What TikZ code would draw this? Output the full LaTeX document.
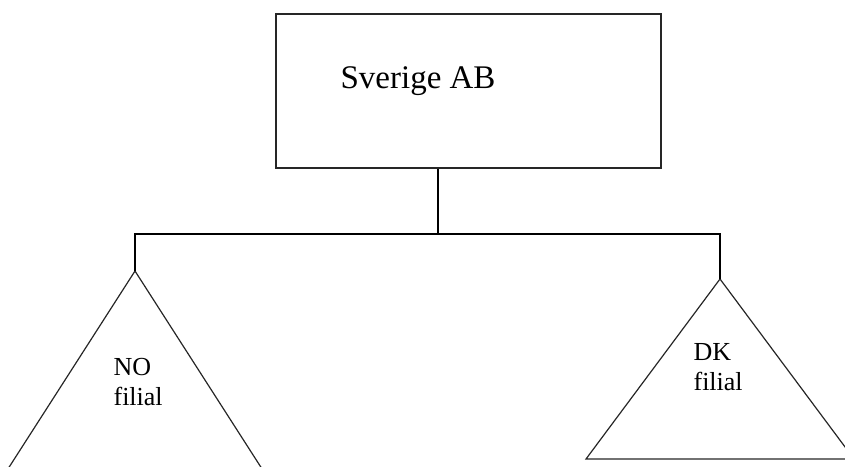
\documentclass[tikz,border=0pt]{standalone}
\usepackage{fontspec}
\setmainfont{Liberation Serif}
\begin{document}
\begin{tikzpicture}[x=1pt,y=-1pt, line join=miter, line width=1.2pt]
            \def\W{845} \def\H{466} % bildens mått
            \tikzset{ruta/.style={draw=black!85, minimum width=385pt, minimum height=154pt, inner sep=0pt},
                     namn/.style={font=\fontsize{26}{30}\selectfont, align=left, inner sep=0pt, anchor=base west}}
            \useasboundingbox (0,0) rectangle (\W,\H);
            % moderbolaget
            \node[ruta] (sverige) at (468.5,91) {};
            \node[anchor=base west, inner sep=0pt, font=\fontsize{33}{36}\selectfont] (sverigetext) at (340,88) {Sverige AB};
            % filialerna
            \coordinate (notop) at (135,271);
            \coordinate (dktop) at (720,279);
            \coordinate (split) at (438,234);
            \begin{scope}
                \clip (0,0) rectangle (\W,\H);
                \draw[black!85] (notop) -- ++(-138,215) -- ++(276,0) -- cycle;
                \draw[black!85] (dktop) -- ++(-134,180) -- ++(268,0) -- cycle;
            \end{scope}
            \node[namn] (notext) at (113,405) {NO\\filial};
            \node[namn] (dktext) at (693,390) {DK\\filial};
            % organisationslinjer
            \draw (split) -- (split |- sverige.south);
            \draw (notop) |- (split) -| (dktop);
        \end{tikzpicture}
\end{document}
